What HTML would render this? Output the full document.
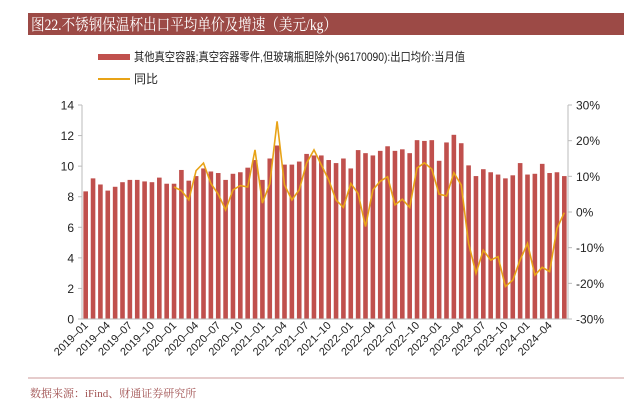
<!DOCTYPE html>
<html><head><meta charset="utf-8"><style>
body{margin:0;background:#fff;width:626px;height:404px;overflow:hidden;font-family:"Liberation Sans","Noto Sans CJK SC",sans-serif}
</style></head><body>
<svg width="626" height="404" xmlns="http://www.w3.org/2000/svg">
<rect x="28" y="13" width="596" height="22" fill="#9c4a46"/>
<text x="31" y="30" fill="#fff" font-size="16" textLength="306" lengthAdjust="spacingAndGlyphs" font-family="Liberation Serif,Noto Serif CJK SC,serif">图22.不锈钢保温杯出口平均单价及增速（美元/kg）</text>
<rect x="98" y="54" width="32" height="6" fill="#c0504d"/>
<text x="134" y="61" font-size="12" fill="#222" textLength="331" lengthAdjust="spacingAndGlyphs">其他真空容器;真空容器零件,但玻璃瓶胆除外(96170090):出口均价:当月值</text>
<line x1="98" y1="79" x2="130" y2="79" stroke="#e8a317" stroke-width="2"/>
<text x="134" y="83" font-size="12" fill="#222">同比</text>
<g id="plot"></g>
<line x1="28" y1="378" x2="624" y2="378" stroke="#c99" stroke-width="1"/>
<text x="30" y="397" font-size="11" fill="#a05050" font-family="Liberation Serif,Noto Serif CJK SC,serif">数据来源：iFind、财通证券研究所</text>
</svg>
<script>
const months=[];for(let y=2019;y<=2024;y++)for(let m=1;m<=12;m++){if(y===2024&&m>6)break;months.push(y+'-'+String(m).padStart(2,'0'));}
const prices=[8.35,9.2,8.8,8.4,8.65,8.95,9.1,9.1,9.0,8.95,9.25,8.85,8.85,9.75,9.05,9.35,9.85,9.65,9.55,9.1,9.5,9.6,9.9,10.4,9.1,10.5,11.35,10.1,10.1,10.3,10.8,10.7,10.7,10.4,10.2,10.5,9.85,11.05,10.85,10.7,11.0,11.3,11.0,11.1,10.85,11.7,11.65,11.7,10.35,11.55,12.05,11.5,10.05,9.35,9.8,9.6,9.45,9.2,9.4,10.2,9.45,9.5,10.15,9.55,9.6,9.35];
const yoy=[null,null,null,null,null,null,null,null,null,null,null,null,7,6,3.4,11.6,13.7,8,5,0.6,6.2,7.4,7,17.4,2.5,7.9,25.4,7.6,3.4,6.2,13.7,17.4,13.2,9,3.4,1.3,8,5.2,-4.1,6.2,8.6,9.9,2,3.6,1.3,12.3,13.8,12,5,4.5,11,7.6,-8.8,-17.2,-10.7,-13.5,-12.5,-20.9,-19.1,-13.5,-8.8,-17.7,-15.5,-16.7,-4.6,-0.2];
const leftTicks=[0,2,4,6,8,10,12,14];
const rightTicks=[-30,-20,-10,0,10,20,30];
const NS='http://www.w3.org/2000/svg';const g=document.getElementById('plot');
const X0=82,X1=568,Y0=319,Y1=105;const bw=(X1-X0)/months.length;
const xc=i=>X0+bw*(i+0.5);const yl=v=>Y0-(v/14)*(Y0-Y1);const yr=v=>Y0-((v+30)/60)*(Y0-Y1);
function mk(t,a){const e=document.createElementNS(NS,t);for(const k in a)e.setAttribute(k,a[k]);g.appendChild(e);return e;}
let e;
prices.forEach((v,i)=>{e=mk('rect',{x:xc(i)-2.3,y:yl(v),width:4.6,height:Y0-yl(v),fill:'#c0504d'});

});
e=mk('line',{x1:X0,y1:Y1,x2:X0,y2:Y0,stroke:'#bbb'});


e=mk('line',{x1:X1,y1:Y1,x2:X1,y2:Y0,stroke:'#bbb'});


e=mk('line',{x1:X0,y1:Y0,x2:X1,y2:Y0,stroke:'#bbb'});


leftTicks.forEach(v=>{mk('line',{x1:X0-4,y1:yl(v),x2:X0,y2:yl(v),stroke:'#bbb'});
e=mk('text',{x:X0-8,y:yl(v)+4.5,'text-anchor':'end','font-size':12,fill:'#222'});e.textContent=v;

});
rightTicks.forEach(v=>{mk('line',{x1:X1,y1:yr(v),x2:X1+4,y2:yr(v),stroke:'#bbb'});
e=mk('text',{x:X1+8,y:yr(v)+4.5,'font-size':12,fill:'#222'});e.textContent=v+'%';

});
months.forEach((m,i)=>{if(i%3)return;const x=xc(i)+3,y=326;
e=mk('text',{x:x,y:y,'text-anchor':'end','font-size':11,fill:'#222',transform:`rotate(-45 ${x} ${y})`});e.textContent=m.replace('-','–');

});
const pts=[];yoy.forEach((v,i)=>{if(v!==null)pts.push(xc(i).toFixed(1)+','+yr(v).toFixed(1));});
e=mk('polyline',{points:pts.join(' '),fill:'none',stroke:'#e8a317','stroke-width':1.6});


</script>
</body></html>
